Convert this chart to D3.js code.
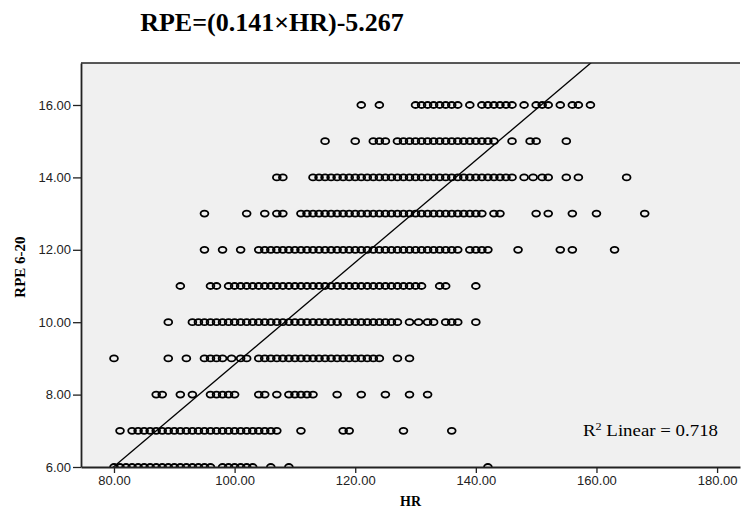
<!DOCTYPE html>
<meta charset="utf-8">
<html>
<head>
<script src="https://d3js.org/d3.v7.min.js"></script>
<style>
  body { margin: 0; background: #fff; }
  .tick text { font-family: "Liberation Sans", Arial, sans-serif; font-size: 13px; fill: #222; }
  .tick line, .domain { stroke: #222; }
  .ttl { font-family: "Liberation Serif", "Times New Roman", serif; font-weight: bold; fill: #000; }
</style>
</head>
<body>
<svg id="chart"></svg>
<script>
var rpe16 = [121, 124, 130, 131, 132, 133, 134, 135, 136, 137, 139, 141, 142, 143, 144, 145, 146, 148, 150, 151, 152, 154, 156, 157, 159];
var rpe15 = [115, 120, 123, 124, 125, 127, 128, 129, 130, 131, 132, 133, 134, 135, 136, 137, 138, 139, 140, 141, 142, 143, 146, 149, 150, 155];
var rpe14 = [107, 108, 113, 114, 115, 116, 117, 118, 119, 120, 121, 122, 123, 124, 125, 126, 127, 128, 129, 130, 131, 132, 133, 134, 135, 136, 137, 138, 139, 140, 141, 142, 143, 144, 145, 146, 148, 149.5, 151, 152, 155, 157, 165];
var rpe13 = [95, 102, 105, 107, 108, 111, 112, 113, 114, 115, 116, 117, 118, 119, 120, 121, 122, 123, 124, 125, 126, 127, 128, 129, 130, 131, 132, 133, 134, 135, 136, 137, 138, 139, 140, 141, 143, 144, 150, 152, 156, 160, 168];
var rpe12 = [95, 98, 101, 104, 105, 106, 107, 108, 109, 110, 111, 112, 113, 114, 115, 116, 117, 118, 119, 120, 121, 122, 123, 124, 125, 126, 127, 128, 129, 130, 131, 132, 133, 134, 135, 136, 137, 139, 140, 141, 142, 147, 154, 156, 163];
var rpe11 = [91, 96, 97, 99, 100, 101, 102, 103, 104, 105, 106, 107, 108, 109, 110, 111, 112, 113, 114, 115, 116, 117, 118, 119, 120, 121, 122, 123, 124, 125, 126, 127, 128, 129, 130, 131, 134, 135, 140];
var rpe10 = [89, 93, 94, 95, 96, 97, 98, 99, 100, 101, 102, 103, 104, 105, 106, 107, 108, 109, 110, 111, 112, 113, 114, 115, 116, 117, 118, 119, 120, 121, 122, 123, 124, 125, 126, 127, 129, 130.5, 132, 133, 135, 136, 137, 140];
var rpe9  = [80, 89, 92, 95, 96, 97, 98, 99.5, 101, 102, 104, 105, 106, 107, 108, 109, 110, 111, 112, 113, 114, 115, 116, 117, 118, 119, 120, 121, 122, 123, 124, 127, 129];
var rpe8  = [87, 88, 91, 93, 96, 97, 98, 99, 100, 104, 105, 107, 109, 110, 111, 112, 113, 117, 121, 125, 129, 132];
var rpe7  = [81, 83, 84, 85, 86, 87, 88, 89, 90, 91, 92, 93, 94, 95, 96, 97, 98, 99, 100, 101, 102, 103, 104, 105, 106, 107, 111, 118, 119, 128, 136];
var rpe6  = [80, 81, 82, 83, 84, 85, 86, 87, 88, 89, 90, 91, 92, 93, 94, 95, 96, 98, 99, 100, 101, 102, 103, 106, 109, 142];

var rpeLevels = [16, 15, 14, 13, 12, 11, 10, 9, 8, 7, 6];
var hrRows = [rpe16, rpe15, rpe14, rpe13, rpe12, rpe11, rpe10, rpe9, rpe8, rpe7, rpe6];

var xTicks = [80, 100, 120, 140, 160, 180];
var yTicks = [6, 8, 10, 12, 14, 16];

var slope = 0.141, intercept = -5.267, rSquared = 0.718;
var titleText = "RPE=(0.141\u00d7HR)-5.267";

var W = 741, H = 511;
var margin = {top: 63, right: 1, bottom: 44, left: 81};
var width = W - margin.left - margin.right,
    height = H - margin.top - margin.bottom;

var svg = d3.select("#chart").attr("width", W).attr("height", H);

var x = d3.scaleLinear().domain([74.53, 183.8]).range([0, width]);
var y = d3.scaleLinear().domain([6, 17.16]).range([height, 0]);

var points = [];
hrRows.forEach(function(row, i) {
  row.forEach(function(hr) { points.push({hr: hr, rpe: rpeLevels[i]}); });
});

svg.append("defs").append("clipPath").attr("id", "plotclip")
  .append("rect").attr("width", width).attr("height", height);

var g = svg.append("g")
  .attr("transform", "translate(" + margin.left + "," + margin.top + ")");

// plot background
g.append("rect")
  .attr("width", width).attr("height", height)
  .attr("fill", "#f0f0f0");

var inner = g.append("g").attr("clip-path", "url(#plotclip)");

inner.selectAll("ellipse")
  .data(points)
  .enter().append("ellipse")
    .attr("cx", function(d) { return x(d.hr); })
    .attr("cy", function(d) { return y(d.rpe); })
    .attr("rx", 3.9)
    .attr("ry", 3)
    .attr("fill", "none")
    .attr("stroke", "#000")
    .attr("stroke-width", 1.8);

// fit line
var xd = x.domain();
inner.append("line")
  .attr("x1", x(xd[0])).attr("y1", y(slope * xd[0] + intercept))
  .attr("x2", x(xd[1])).attr("y2", y(slope * xd[1] + intercept))
  .attr("stroke", "#000")
  .attr("stroke-width", 1.3);

// top border
g.append("line")
  .attr("x1", 0).attr("x2", width).attr("y1", 0).attr("y2", 0)
  .attr("stroke", "#222").attr("stroke-width", 1.5);

g.append("g")
  .attr("transform", "translate(0," + height + ")")
  .call(d3.axisBottom(x).tickValues(xTicks).tickFormat(d3.format(".2f"))
        .tickSize(6).tickPadding(3).tickSizeOuter(0))
  .call(function(a) { a.select(".domain").attr("stroke-width", 1.8); });

g.append("g")
  .call(d3.axisLeft(y).tickValues(yTicks).tickFormat(d3.format(".2f"))
        .tickSize(8).tickPadding(2).tickSizeOuter(0))
  .call(function(a) { a.select(".domain").attr("stroke-width", 1.8); });

g.selectAll(".tick line").attr("stroke-width", 1.3);

// R squared label
var r2 = g.append("text")
  .attr("class", "ttl")
  .attr("x", 583 - margin.left)
  .attr("y", y(7) + 5)
  .attr("textLength", 135)
  .attr("lengthAdjust", "spacingAndGlyphs")
  .style("font-weight", "normal")
  .style("font-size", "17px");
r2.append("tspan").text("R");
r2.append("tspan").attr("dy", -6).style("font-size", "11px").text("2");
r2.append("tspan").attr("dy", 6).text(" Linear = " + rSquared);

// titles
svg.append("text")
  .attr("class", "ttl")
  .attr("x", 272).attr("y", 31)
  .attr("text-anchor", "middle")
  .style("font-size", "26px")
  .text(titleText);

svg.append("text")
  .attr("class", "ttl")
  .attr("x", margin.left + width / 2).attr("y", 506)
  .attr("text-anchor", "middle")
  .style("font-size", "14px")
  .text("HR");

svg.append("text")
  .attr("class", "ttl")
  .attr("transform", "translate(25," + (margin.top + height / 2 + 2) + ")rotate(-90)")
  .attr("text-anchor", "middle")
  .style("font-size", "15px")
  .text("RPE 6-20");
</script>
</body>
</html>
